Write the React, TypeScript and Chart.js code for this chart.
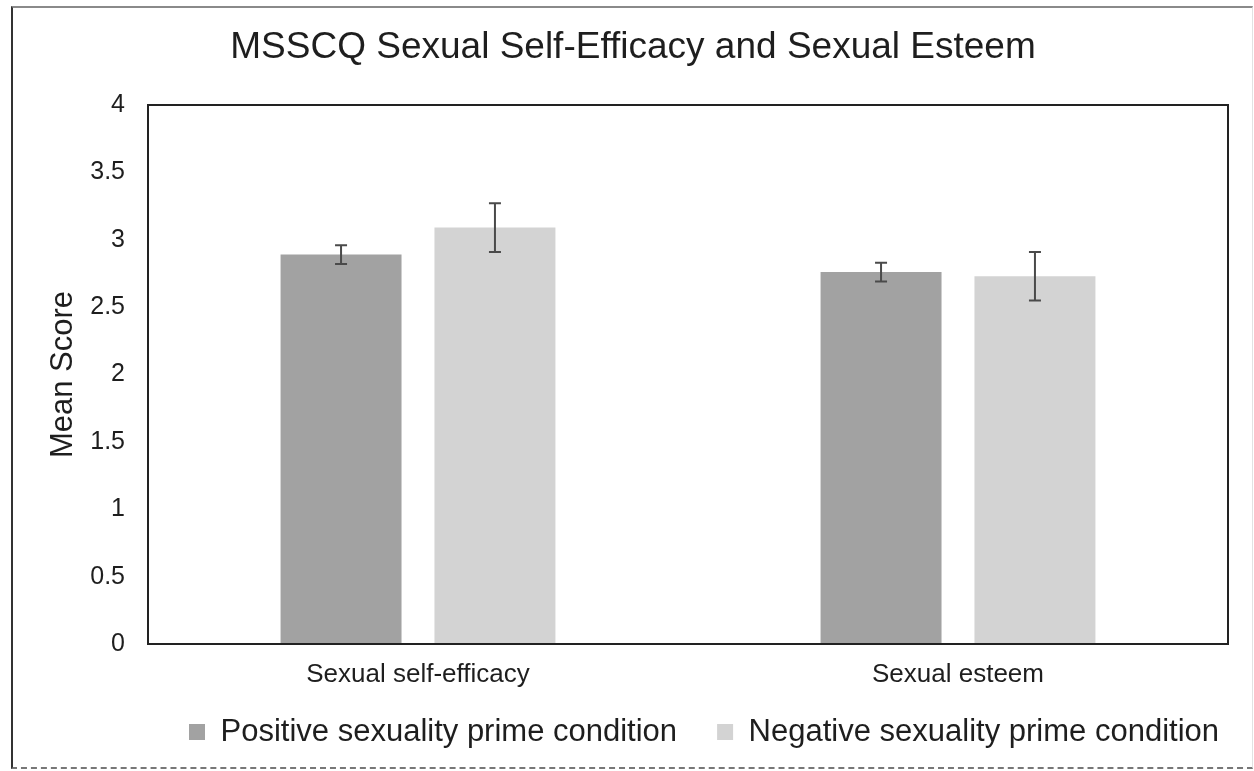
import React, { useEffect, useRef } from 'react';
import { Chart, registerables } from 'chart.js';

Chart.register(...registerables);

// ---- data ----
const categories = ['Sexual self-efficacy', 'Sexual esteem'];
const seriesLabels = ['Positive sexuality prime condition', 'Negative sexuality prime condition'];
const positiveMeans = [2.89, 2.76];
const negativeMeans = [3.09, 2.73];
const positiveErrors = [0.07, 0.07];
const negativeErrors = [0.18, 0.18];
const yMin = 0;
const yMax = 4;
const yStep = 0.5;
const chartTitle = 'MSSCQ Sexual Self-Efficacy and Sexual Esteem';
const yAxisTitle = 'Mean Score';

const errorTable = [positiveErrors, negativeErrors];
const seriesColors = ['#a2a2a2', '#d3d3d3'];

const FONT = '"Liberation Sans", Arial, Helvetica, sans-serif';
const TEXT = '#1e1e1e';

const framePlugin = {
  id: 'frameAndErrors',
  afterDatasetsDraw(chart: any) {
    const { ctx, chartArea: a } = chart;
    const yScale = chart.scales.y;
    ctx.save();
    // error bars
    ctx.strokeStyle = '#4a4a4a';
    ctx.lineWidth = 2;
    chart.data.datasets.forEach((ds: any, i: number) => {
      const meta = chart.getDatasetMeta(i);
      const errs = errorTable[i];
      meta.data.forEach((el: any, j: number) => {
        const v = ds.data[j] as number;
        const e = errs[j];
        const yt = yScale.getPixelForValue(v + e);
        const yb = yScale.getPixelForValue(v - e);
        const x = el.x;
        ctx.beginPath();
        ctx.moveTo(x, yt);
        ctx.lineTo(x, yb);
        ctx.moveTo(x - 6, yt);
        ctx.lineTo(x + 6, yt);
        ctx.moveTo(x - 6, yb);
        ctx.lineTo(x + 6, yb);
        ctx.stroke();
      });
    });
    // plot frame
    ctx.strokeStyle = '#222';
    ctx.lineWidth = 2;
    ctx.strokeRect(a.left, a.top, a.right - a.left, a.bottom - a.top);
    ctx.restore();
  },
};

// nudge the built-in legend to sit where the reference's legend sits
const legendShiftPlugin = {
  id: 'legendShift',
  afterLayout(chart: any) {
    const lg = chart.legend;
    if (!lg) return;
    const dx = chart.chartArea.left + 1 - lg.left;
    lg.left += dx;
    lg.right += dx;
    const dy = chart.chartArea.bottom + 32.5 - lg.top;
    lg.top += dy;
    lg.bottom += dy;
  },
};

export default function App() {
  const ref = useRef<HTMLCanvasElement | null>(null);

  useEffect(() => {
    if (!ref.current) return;
    Chart.defaults.font.family = FONT;
    const chart = new Chart(ref.current, {
      type: 'bar',
      data: {
        labels: categories,
        datasets: [
          {
            label: seriesLabels[0],
            data: positiveMeans,
            backgroundColor: seriesColors[0],
            borderColor: seriesColors[0],
            borderWidth: 0,
            categoryPercentage: 0.57,
            barPercentage: 0.786,
          },
          {
            label: seriesLabels[1],
            data: negativeMeans,
            backgroundColor: seriesColors[1],
            borderColor: seriesColors[1],
            borderWidth: 0,
            categoryPercentage: 0.57,
            barPercentage: 0.786,
          },
        ],
      },
      options: {
        animation: false,
        responsive: false,
        devicePixelRatio: 1,
        layout: { padding: { left: 38, right: 26, top: 0, bottom: 0 } },
        plugins: {
          title: {
            display: true,
            text: chartTitle,
            color: TEXT,
            font: { size: 37, weight: 'normal', family: FONT },
            padding: { top: 26, bottom: 34.6 },
          },
          legend: {
            display: true,
            position: 'bottom',
            align: 'start',
            labels: {
              boxWidth: 16,
              boxHeight: 16,
              padding: 40,
              color: TEXT,
              font: { size: 31, family: FONT },
            },
          },
          tooltip: { enabled: false },
        },
        scales: {
          x: {
            grid: { display: false, drawTicks: false },
            border: { display: false },
            ticks: {
              color: TEXT,
              font: { size: 26, family: FONT },
              padding: 15,
              maxRotation: 0,
              autoSkip: false,
            },
            afterFit(scale: any) {
              scale.height = 46;
            },
          },
          y: {
            min: yMin,
            max: yMax,
            grid: { display: false, drawTicks: false },
            border: { display: false },
            ticks: {
              stepSize: yStep,
              color: TEXT,
              font: { size: 25, family: FONT },
              padding: 23,
              callback: (v: any) => String(Number(v)),
            },
            title: {
              display: true,
              text: yAxisTitle,
              color: TEXT,
              font: { size: 31, family: FONT },
              padding: { top: 7, bottom: 0 },
            },
            afterFit(scale: any) {
              scale.width = 110;
            },
          },
        },
      },
      plugins: [framePlugin, legendShiftPlugin],
    } as any);
    return () => chart.destroy();
  }, []);

  return (
    <div style={{ position: 'absolute', left: 0, top: 0, width: 1254, height: 771, background: '#fff' }}>
      <canvas ref={ref} width={1254} height={771} style={{ display: 'block', width: 1254, height: 771 }} />
      <div
        style={{
          position: 'absolute',
          left: 11,
          top: 6,
          width: 1242,
          height: 763,
          boxSizing: 'border-box',
          borderLeft: '2px solid #333',
          borderTop: '2px solid #8a8a8a',
          borderBottom: '2px dashed #777',
          borderRight: '1px solid #e2e2e2',
          pointerEvents: 'none',
        }}
      />
    </div>
  );
}
